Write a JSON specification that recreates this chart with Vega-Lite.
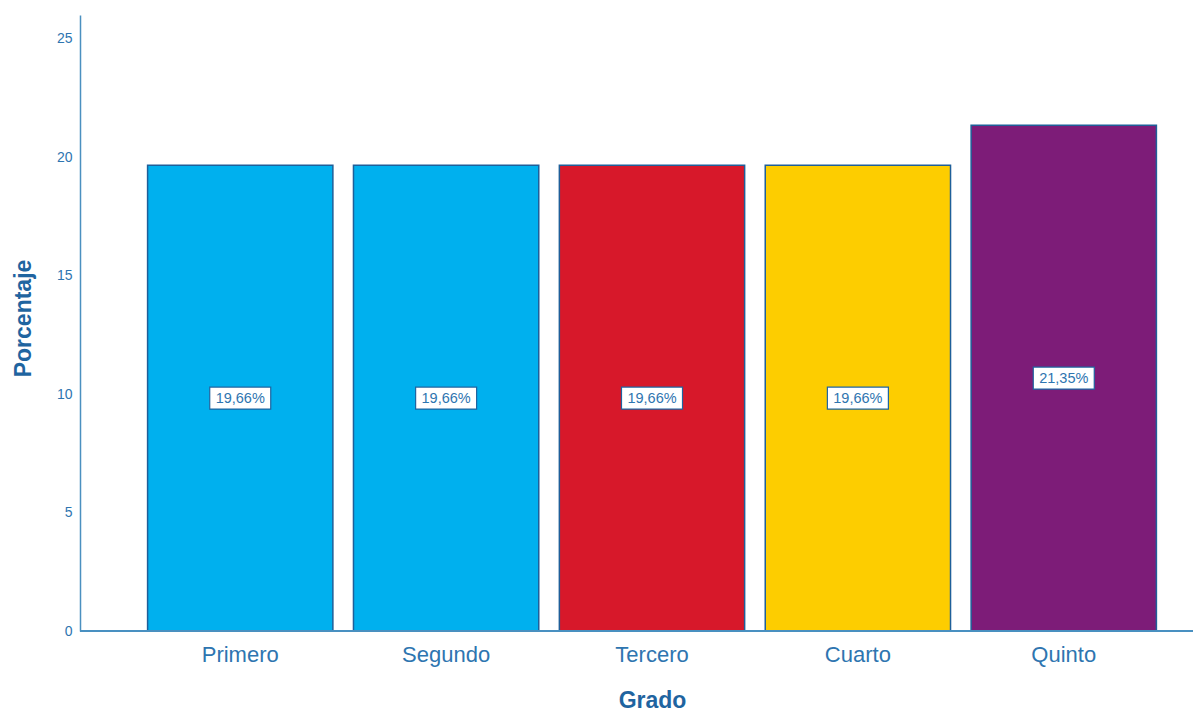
{
  "$schema": "https://vega.github.io/schema/vega-lite/v6.json",
  "width": 1113,
  "height": 616,
  "autosize": {"type": "none"},
  "padding": {"left": 80, "top": 15, "right": 0, "bottom": 81},
  "background": "white",
  "data": {
    "values": [
      {"grado": "Primero", "porcentaje": 19.66, "etiqueta": "19,66%", "color": "#00B0EE"},
      {"grado": "Segundo", "porcentaje": 19.66, "etiqueta": "19,66%", "color": "#00B0EE"},
      {"grado": "Tercero", "porcentaje": 19.66, "etiqueta": "19,66%", "color": "#D7182A"},
      {"grado": "Cuarto", "porcentaje": 19.66, "etiqueta": "19,66%", "color": "#FDCD00"},
      {"grado": "Quinto", "porcentaje": 21.35, "etiqueta": "21,35%", "color": "#7D1C78"}
    ]
  },
  "config": {
    "view": {"stroke": null},
    "font": "Liberation Sans",
    "axis": {"grid": false, "ticks": false, "domainColor": "#4A90C0", "domainWidth": 1.5, "labelColor": "#2E75B0", "titleColor": "#1F64A0", "labelFont": "Liberation Sans", "titleFont": "Liberation Sans"}
  },
  "encoding": {
    "x": {
      "field": "grado",
      "type": "nominal",
      "sort": ["Primero", "Segundo", "Tercero", "Cuarto", "Quinto"],
      "scale": {"range": [47, 1097], "paddingInner": 0.1, "paddingOuter": 0.1},
      "axis": {"title": "Grado", "domain": false, "labelAngle": 0, "labelFontSize": 22, "labelPadding": 13, "titleFontSize": 23, "titleFontWeight": "bold", "titlePadding": 24}
    }
  },
  "layer": [
    {
      "mark": {"type": "bar", "stroke": "#1F5F99", "strokeWidth": 1.5},
      "encoding": {
        "y": {
          "field": "porcentaje",
          "type": "quantitative",
          "scale": {"domain": [0, 26], "nice": false},
          "axis": {"title": "Porcentaje", "values": [0, 5, 10, 15, 20, 25], "labelFontSize": 14, "labelPadding": 8, "titleFontSize": 23, "titleFontWeight": "bold", "titlePadding": 21, "titleY": 303}
        },
        "color": {"field": "color", "type": "nominal", "scale": null}
      }
    },
    {
      "mark": {"type": "rule", "color": "#4A90C0", "strokeWidth": 1.5},
      "encoding": {"x": null, "y": {"datum": 0, "type": "quantitative"}}
    },
    {
      "transform": [{"calculate": "datum.porcentaje / 2", "as": "mitad"}],
      "mark": {"type": "point", "shape": "M-1,-0.36L1,-0.36L1,0.36L-1,0.36Z", "filled": true, "fill": "white", "stroke": "#1F64A0", "strokeWidth": 1.2, "opacity": 1, "size": 3721},
      "encoding": {"y": {"field": "mitad", "type": "quantitative"}}
    },
    {
      "transform": [{"calculate": "datum.porcentaje / 2", "as": "mitad"}],
      "mark": {"type": "text", "fontSize": 14.5, "color": "#2E75B0", "baseline": "middle", "dy": 1},
      "encoding": {"y": {"field": "mitad", "type": "quantitative"}, "text": {"field": "etiqueta"}}
    }
  ]
}
